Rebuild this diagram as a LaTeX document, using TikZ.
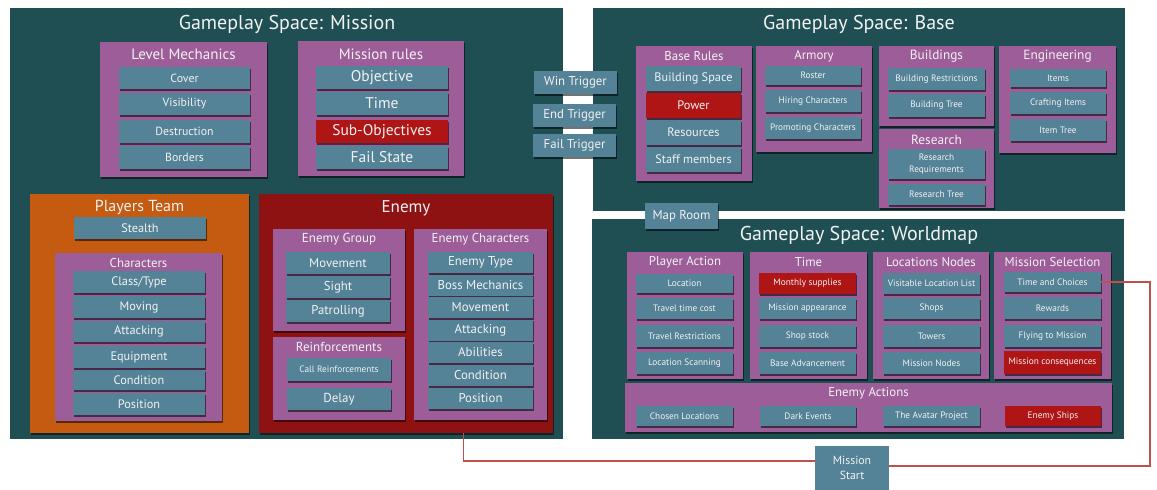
\documentclass[tikz,border=0pt]{standalone}
\usepackage{fontspec}
\setmainfont{PT Sans}
\usetikzlibrary{shadows,calc}
\definecolor{bgteal}{HTML}{1F4F53}
\definecolor{purp}{HTML}{9D5D99}
\definecolor{itemc}{HTML}{548296}
\definecolor{itemr}{HTML}{B01515}
\definecolor{enemyc}{HTML}{8E1212}
\definecolor{orangec}{HTML}{C55A11}
\definecolor{txt}{HTML}{F2F2F2}
\definecolor{linec}{HTML}{C0504D}
\tikzset{
  every node/.style={inner sep=0pt, outer sep=0pt, text=txt},
  sh/.style={drop shadow={shadow xshift=1.2pt,shadow yshift=-1.6pt,opacity=0.55,fill=black}},
  space/.style={fill=bgteal},
  grp/.style={fill=purp,sh},
  item/.style={fill=itemc,sh},
  ritem/.style={fill=itemr,sh},
  fs/.style={font=\fontsize{#1}{#1}\selectfont},
  redline/.style={draw=linec,line width=1.1pt},
}
\newcommand\bx[7]{\node[#6, minimum width={#4pt-#2pt}, minimum height={#5pt-#3pt}] (#1) at ({(#2+#4)/2},{(#3+#5)/2}) {#7};}
\begin{document}
\begin{tikzpicture}[x=1pt,y=-1pt]
\useasboundingbox (0,0) rectangle (1157,490);
% ---------- Mission space
\bx{ms-space}{10}{8}{563}{439}{space}{}
\node[fs=20] (ms-title) at (287,24) {Gameplay Space: Mission};
% Level mechanics
\bx{lm}{100}{42}{267}{177}{grp}{}
\node[fs=15] (lm-t) at (183.5,54) {Level Mechanics};
\bx{lm1}{119}{67}{250}{89}{item,fs=11.8}{Cover}
\bx{lm2}{119}{93}{250}{115}{item,fs=11.8}{Visibility}
\bx{lm3}{119}{120}{250}{143}{item,fs=11.8}{Destruction}
\bx{lm4}{119}{146}{250}{169}{item,fs=11.8}{Borders}
% Mission rules
\bx{mr}{298}{41}{464}{176}{grp}{}
\node[fs=15] (mr-t) at (381,54) {Mission rules};
\bx{mr1}{316}{66}{448}{89}{item,fs=15.5}{Objective}
\bx{mr2}{316}{92}{448}{115}{item,fs=15.5}{Time}
\bx{mr3}{316}{120}{448}{143}{ritem,fs=15.5}{Sub-Objectives}
\bx{mr4}{316}{146}{448}{169}{item,fs=15.5}{Fail State}
% Players team
\bx{pt}{30}{194}{249}{433}{fill=orangec,sh}{}
\node[fs=16] (pt-t) at (139.5,207) {Players Team};
\bx{pt1}{74}{217}{206}{239}{item,fs=12.3}{Stealth}
\bx{ch}{55}{253}{222}{421}{grp}{}
\node[fs=12.8] (ch-t) at (138.5,263) {Characters};
\bx{ch1}{73}{271}{205}{293}{item,fs=12.3}{Class/Type}
\bx{ch2}{73}{296}{205}{318}{item,fs=12.3}{Moving}
\bx{ch3}{73}{321}{205}{342}{item,fs=12.3}{Attacking}
\bx{ch4}{73}{346}{205}{368}{item,fs=12.3}{Equipment}
\bx{ch5}{73}{370}{205}{390}{item,fs=12.3}{Condition}
\bx{ch6}{73}{393}{205}{415}{item,fs=12.3}{Position}
% Enemy
\bx{en}{259}{194}{553}{433}{fill=enemyc,sh}{}
\node[fs=17] (en-t) at (406,208) {Enemy};
\bx{eg}{273}{229}{405}{331}{grp}{}
\node[fs=13] (eg-t) at (339,239.5) {Enemy Group};
\bx{eg1}{286}{252}{390}{274}{item,fs=12.8}{Movement}
\bx{eg2}{286}{276}{390}{298}{item,fs=12.8}{Sight}
\bx{eg3}{286}{300}{390}{322}{item,fs=12.8}{Patrolling}
\bx{rf}{273}{337}{405}{420}{grp}{}
\node[fs=13] (rf-t) at (339,347) {Reinforcements};
\bx{rf1}{287}{358}{391}{381}{item,fs=9.3}{Call Reinforcements}
\bx{rf2}{287}{388}{391}{410}{item,fs=13}{Delay}
\bx{ec}{414}{229}{547}{420}{grp}{}
\node[fs=12.8] (ec-t) at (480.5,239.5) {Enemy Characters};
\bx{ec1}{428}{252}{533}{273}{item,fs=12.8}{Enemy Type}
\bx{ec2}{428}{274.5}{533}{295.5}{item,fs=12.8}{Boss Mechanics}
\bx{ec3}{428}{297}{533}{318}{item,fs=12.8}{Movement}
\bx{ec4}{428}{319.5}{533}{340.5}{item,fs=12.8}{Attacking}
\bx{ec5}{428}{342}{533}{363}{item,fs=12.8}{Abilities}
\bx{ec6}{428}{365}{533}{386}{item,fs=12.8}{Condition}
\bx{ec7}{428}{388}{533}{409}{item,fs=12.8}{Position}
% ---------- Base space
\bx{bs-space}{593}{8}{1125}{211}{space}{}
\node[fs=20] (bs-title) at (859,24) {Gameplay Space: Base};
\bx{br}{636}{46}{752}{181}{grp}{}
\node[fs=12.8] (br-t) at (694,56.5) {Base Rules};
\bx{br1}{646}{66}{741}{91}{item,fs=12.3}{Building Space}
\bx{br2}{646}{93}{741}{118}{ritem,fs=12.3}{Power}
\bx{br3}{646}{120}{741}{145}{item,fs=12.3}{Resources}
\bx{br4}{646}{147}{741}{172}{item,fs=12.3}{Staff members}
\bx{ar}{756}{46}{872}{152}{grp}{}
\node[fs=12.8] (ar-t) at (814,56.5) {Armory};
\bx{ar1}{765}{66}{861}{85}{item,fs=9.3}{Roster}
\bx{ar2}{765}{90}{861}{112}{item,fs=9.3}{Hiring Characters}
\bx{ar3}{765}{117}{861}{139}{item,fs=9.3}{Promoting Characters}
\bx{bu}{879}{46}{994}{126}{grp}{}
\node[fs=13.3] (bu-t) at (936.5,56.5) {Buildings};
\bx{bu1}{888}{68}{985}{90}{item,fs=9.3}{Building Restrictions}
\bx{bu2}{888}{94}{985}{117}{item,fs=9.3}{Building Tree}
\bx{re}{879}{129}{994}{208}{grp}{}
\node[fs=13.3] (re-t) at (936.5,139.5) {Research};
\bx{re1}{888}{149}{985}{179}{item,align=center,font=\fontsize{9.3}{11.5}\selectfont}{Research\\Requirements}
\bx{re2}{888}{184}{985}{205}{item,fs=9.3}{Research Tree}
\bx{eng}{999}{46}{1116}{153}{grp}{}
\node[fs=13.3] (eng-t) at (1057.5,56.5) {Engineering};
\bx{eng1}{1010}{69}{1106}{87}{item,fs=9.3}{Items}
\bx{eng2}{1010}{92}{1106}{114}{item,fs=9.3}{Crafting Items}
\bx{eng3}{1010}{119}{1106}{141}{item,fs=9.3}{Item Tree}
% ---------- Triggers
\bx{tw}{534}{71}{617}{94}{item,fs=12.8}{Win Trigger}
\bx{te}{533}{104}{616}{127}{item,fs=12.8}{End Trigger}
\bx{tf}{533}{134}{616}{157}{item,fs=12.8}{Fail Trigger}
% ---------- Worldmap space
\bx{wm-space}{592}{219}{1124}{439}{space}{}
\node[fs=20] (wm-title) at (859,235) {Gameplay Space: Worldmap};
\bx{mroom}{645}{203}{718}{229}{item,fs=12.8}{Map Room}
\bx{pa}{627}{252}{743}{379}{grp}{}
\node[fs=12.8] (pa-t) at (685,262.5) {Player Action};
\bx{pa1}{636}{274}{733}{293}{item,fs=9.3}{Location}
\bx{pa2}{636}{298}{733}{319}{item,fs=9.3}{Travel time cost}
\bx{pa3}{636}{325}{733}{347}{item,fs=9.3}{Travel Restrictions}
\bx{pa4}{636}{352}{733}{374}{item,fs=9.3}{Location Scanning}
\bx{tm}{750}{252}{867}{379}{grp}{}
\node[fs=12.8] (tm-t) at (808.5,262.5) {Time};
\bx{tm1}{759}{273}{856}{294}{ritem,fs=9.3}{Monthly supplies}
\bx{tm2}{759}{298}{856}{319}{item,fs=9.3}{Mission appearance}
\bx{tm3}{759}{325}{856}{347}{item,fs=9.3}{Shop stock}
\bx{tm4}{759}{352}{856}{374}{item,fs=9.3}{Base Advancement}
\bx{ln}{873}{252}{989}{379}{grp}{}
\node[fs=12.8] (ln-t) at (931,262.5) {Locations Nodes};
\bx{ln1}{883}{273}{980}{294}{item,fs=9.3}{Visitable Location List}
\bx{ln2}{883}{298}{980}{319}{item,fs=9.3}{Shops}
\bx{ln3}{883}{325}{980}{347}{item,fs=9.3}{Towers}
\bx{ln4}{883}{352}{980}{374}{item,fs=9.3}{Mission Nodes}
\bx{msel}{994}{252}{1111}{379}{grp}{}
\node[fs=12.8] (msel-t) at (1052.5,262.5) {Mission Selection};
\bx{tc}{1004}{272}{1101}{292}{item,fs=9.3}{Time and Choices}
\bx{msel2}{1004}{297}{1101}{319}{item,fs=9.3}{Rewards}
\bx{msel3}{1004}{325}{1101}{347}{item,fs=9.3}{Flying to Mission}
\bx{msel4}{1004}{351}{1101}{374}{ritem,fs=9.3}{Mission consequences}
\bx{ea}{625}{383}{1112}{432}{grp}{}
\node[fs=12.8] (ea-t) at (868.5,393.5) {Enemy Actions};
\bx{ea1}{636}{406}{733}{426}{item,fs=9.3}{Chosen Locations}
\bx{ea2}{760}{406}{856}{426}{item,fs=9.3}{Dark Events}
\bx{ea3}{883}{406}{980}{426}{item,fs=9.3}{The Avatar Project}
\bx{ea4}{1005}{406}{1101}{426}{ritem,fs=9.3}{Enemy Ships}
% ---------- Mission start
\bx{mstart}{815}{446}{889}{490}{fill=itemc,align=center,font=\fontsize{11.8}{15}\selectfont}{Mission\\Start}
% ---------- connectors
\draw[redline] ($(en.south west)!0.697!(en.south east)$) |- ([yshift=7pt]mstart.west);
\draw[redline] ([yshift=2pt]mstart.east) -- ++(261,0) |- (tc.east);
\end{tikzpicture}
\end{document}
